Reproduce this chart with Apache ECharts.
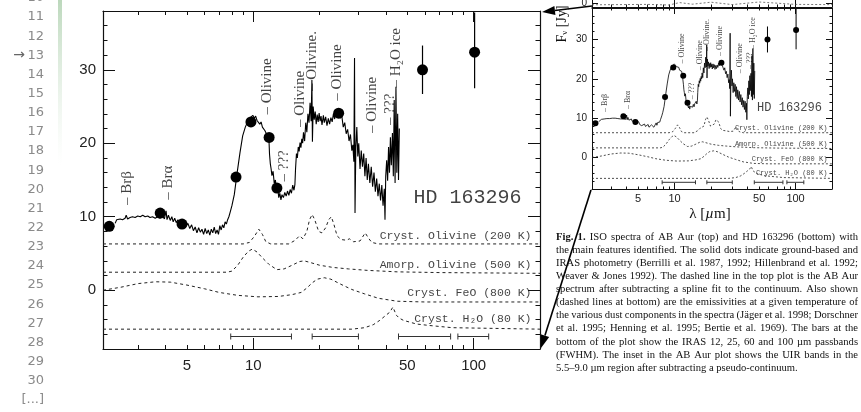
<!DOCTYPE html>
<html><head><meta charset="utf-8">
<script src="https://cdn.jsdelivr.net/npm/echarts@6/dist/echarts.min.js"></script>
<style>html,body{margin:0;padding:0;background:#fff}#c{width:861px;height:412px}</style>
</head><body><div id="c"></div><script>
// ---------------- data ----------------
const XMIN = 2.08, XMAX = 200;
const spectrum = [
[2.36,9.1],[2.40,9.6],[2.44,9.4],[2.49,9.7],[2.55,9.6],[2.62,9.8],[2.65,10.2],[2.69,9.7],[2.76,9.9],[2.83,10.0],[2.91,9.9],[2.99,10.1],[3.07,10.0],[3.15,10.2],[3.23,10.0],[3.32,10.1],[3.40,9.9],[3.49,10.0],[3.59,9.8],[3.68,10.0],[3.78,9.8],[3.88,10.1],[3.95,9.7],[4.02,10.8],[4.06,9.6],[4.12,10.2],[4.20,9.5],[4.27,10.0],[4.33,9.3],[4.40,9.8],[4.47,9.2],[4.55,9.6],[4.62,9.0],[4.70,9.5],[4.78,8.8],[4.86,9.3],[4.95,8.7],
[5.05,9.1],[5.15,8.4],[5.25,8.9],[5.35,8.1],[5.45,8.6],[5.55,7.8],[5.65,8.5],[5.75,7.9],[5.85,8.3],[5.95,7.6],[6.05,8.4],[6.15,7.7],[6.25,8.2],[6.35,7.5],[6.45,8.3],[6.55,7.8],[6.65,8.6],[6.75,7.7],[6.85,8.2],[6.95,7.6],[7.05,8.8],[7.15,8.2],[7.25,8.9],[7.35,8.5],[7.45,9.3],[7.55,9.0],[7.65,9.6],[7.75,10.0],[7.85,10.6],
[8.0,11.5],[8.2,13.0],[8.45,16.0],[8.7,18.7],[8.95,21.0],[9.2,22.2],[9.45,23.0],[9.7,23.5],[9.95,23.8],[10.1,23.4],[10.25,23.7],[10.4,23.1],[10.55,23.3],[10.7,22.6],[10.85,22.9],[11.0,22.2],[11.15,22.4],[11.3,21.7],[11.45,21.9],[11.6,21.0],[11.75,21.3],[11.85,18.5],[11.95,17.2],[12.05,16.5],[12.15,15.6],[12.3,16.2],[12.45,14.5],[12.6,15.0],[12.75,13.6],[12.9,14.0],[13.05,12.6],[13.2,13.2],[13.35,12.3],[13.5,13.0],[13.7,12.6],[13.9,13.3],[14.1,12.8],[14.3,13.5],[14.5,12.9],[14.7,13.7],[14.9,13.2],[15.1,14.3],[15.3,13.6],[15.45,14.4],[15.55,16.5],[15.7,18.6],[15.85,18.0],[16.0,19.5],[16.15,18.9],[16.3,20.1],[16.45,19.4],[16.6,20.6],[16.75,20.0],[16.9,21.5],[17.1,20.3],[17.3,22.8],[17.5,21.5],[17.7,24.0],[17.9,22.8],[18.1,25.5],[18.3,23.0],[18.45,28.6],[18.55,20.2],[18.7,25.0],[18.9,23.2],[19.1,24.3],[19.3,22.6],[19.5,23.9],[19.7,22.9],[19.9,24.1],[20.1,23.0],[20.3,23.7],[20.5,22.5],[20.8,23.8],[21.0,22.8],[21.3,23.6],[21.6,22.4],[21.9,23.4],[22.2,22.6],[22.5,23.5],[22.8,22.9],[23.1,24.0],[23.4,23.3],[23.7,24.3],[24.0,23.6],[24.4,24.6],[24.8,23.4],[25.2,23.8],[25.6,22.2],[26.0,22.8],[26.4,21.3],[26.8,21.9],[27.2,20.3],[27.6,21.2],[28.0,19.0],[28.3,19.8],[28.6,17.5],[28.8,31.6],[28.95,10.5],[29.2,19.5],[29.5,22.2],[29.8,18.2],[30.1,20.0],[30.5,16.5],[30.9,19.0],[31.3,16.8],[31.7,18.6],[32.1,15.5],[32.5,18.0],[32.9,15.0],[33.3,17.2],[33.8,14.6],[34.3,16.8],[34.8,14.1],[35.3,16.0],[35.8,13.4],[36.3,15.2],[36.8,12.8],[37.3,14.5],[37.8,12.2],[38.3,14.3],[38.8,11.5],[39.3,13.8],[39.6,9.6],[39.9,15.5],[40.3,17.7],[40.7,14.9],[41.1,19.5],[41.5,16.0],[41.9,20.8],[42.3,17.0],[42.8,21.4],[43.2,15.5],[43.6,25.9],[44.0,14.6],[44.4,27.7],[44.8,16.0],[45.2,24.0],[45.6,15.0],[46.0,22.0]
];
const photometry = [[2.22,8.7],[3.78,10.5],[4.75,9.0],[8.35,15.4],[9.76,22.9],[11.8,20.8],[12.8,13.9],[24.4,24.1],[58.6,30.0],[101,32.4]];
const photErr = [[58.6,26.7,33.3],[101,27.5,37.8]];
const olivine200 = [[2.08,6.3],[9.0,6.3],[9.6,6.5],[10.1,7.3],[10.6,8.3],[11.0,7.6],[11.4,6.6],[12.0,6.3],[14.5,6.3],[15.5,6.8],[16.2,7.4],[16.8,7.0],[17.5,8.0],[18.0,9.6],[18.5,10.3],[19.0,9.6],[19.8,8.0],[20.5,7.8],[21.3,8.5],[22.0,9.6],[22.6,10.0],[23.2,9.0],[24.0,7.4],[25.0,6.9],[26.5,6.8],[27.3,7.0],[28.5,6.6],[30.5,6.7],[32.2,7.8],[33.3,7.1],[34.5,6.5],[37,6.3],[200,6.3]];
const amorp500 = [[2.08,2.45],[7.6,2.45],[8.0,2.6],[8.5,3.4],[9.0,4.5],[9.5,5.3],[9.9,5.6],[10.4,5.2],[11.0,4.4],[11.8,3.5],[12.8,2.8],[13.8,2.9],[15.0,3.4],[16.2,3.9],[17.0,4.0],[18.0,3.8],[20,3.4],[23,3.1],[27,2.9],[33,2.7],[45,2.5],[70,2.4],[200,2.3]];
const feo800 = [[2.08,0.0],[2.5,0.4],[3.0,0.9],[3.6,1.15],[4.2,1.1],[5.0,0.7],[6.0,0.2],[7.0,-0.3],[8.5,-0.7],[10.5,-0.9],[13,-0.85],[15,-0.6],[16.5,-0.3],[17.5,0.3],[18.5,1.0],[19.5,1.5],[21,1.7],[22.5,1.5],[25,0.8],[28,0.1],[32,-0.5],[37,-1.1],[45,-1.5],[60,-1.6],[200,-1.6]];
const h2o80 = [[2.08,-5.3],[28,-5.3],[32,-5.1],[35,-4.7],[37.5,-4.1],[40,-3.4],[41.6,-3.0],[43,-2.3],[44.6,-3.4],[46,-3.8],[48,-4.1],[55,-4.6],[63,-4.8],[80,-5.1],[200,-5.3]];
const irasBars = [[7.9,14.9],[18.5,30],[45.6,78.6],[84.8,117]];
const irasLevel = -6.3;
const featureLabels = [[2.68,11.6,'Brβ'],[4.10,12.3,'Brα'],[11.5,23.9,'Olivine'],[13.8,14.8,'???'],[16.3,22.2,'Olivine'],[18.4,27.1,'Olivine.'],[23.9,25.8,'Olivine'],[34.5,21.4,'Olivine'],[41.6,22.5,'???'],[44.3,27.6,'H₂O ice']];
const curveLabels = [[183,7.37,'Cryst. Olivine (200 K)'],[183,3.41,'Amorp. Olivine (500 K)'],[183,-0.41,'Cryst. FeO (800 K)'],[183,-3.96,'Cryst. H₂O (80 K)']];
const starLabel = [[165,12.55,'HD 163296']];
const upperResidual = [[2.08,-0.9],[6,-0.7],[9,-1.0],[11,0.2],[14,-0.6],[20,0.4],[30,-0.8],[50,0.5],[100,-0.7],[200,-0.8]];
const xMinorTicks = [3,4,5,6,7,8,9,20,30,40,50,60,70,80,90];
const xMajorTicks = [10,100];
const xTickLabels = [5,10,50,100];
const yMinorTicks = [-6,-4,-2,2,4,6,8,12,14,16,18,22,24,26,28,32,34,36];
const yMajorTicks = [0,10,20,30];
const yTickLabels = [0,10,20,30];
const upperYTicks = [0];
const lineNumbers = [10,11,12,13,14,15,16,17,18,19,20,21,22,23,24,25,26,27,28,29,30];
const captionLines = [
'Fig. 1. ISO spectra of AB Aur (top) and HD 163296 (bottom) with',
'the main features identified. The solid dots indicate ground-based and',
'IRAS photometry (Berrilli et al. 1987, 1992; Hillenbrand et al. 1992;',
'Weaver & Jones 1992). The dashed line in the top plot is the AB Aur',
'spectrum after subtracting a spline fit to the continuum. Also shown',
'(dashed lines at bottom) are the emissivities at a given temperature of',
'the various dust components in the spectra (Jäger et al. 1998; Dorschner',
'et al. 1995; Henning et al. 1995; Bertie et al. 1969). The bars at the',
'bottom of the plot show the IRAS 12, 25, 60 and 100 µm passbands',
'(FWHM). The inset in the AB Aur plot shows the UIR bands in the',
'5.5–9.0 µm region after subtracting a pseudo-continuum.'
];

// ---------------- layout ----------------
const G0 = {left:103, top:11, width:437, height:338};
const G1 = {left:592, top:8, width:240, height:181};
const G2 = {left:592, top:0, width:240, height:7};
const INK = '#111';
const SANS = '"Liberation Sans", Arial, sans-serif';
const SERIF = '"Liberation Serif", "DejaVu Serif", serif';
const MONO = '"Liberation Mono", "DejaVu Sans Mono", monospace';

function xAxes(g, s) {
  const base = {type:'log', logBase:10, gridIndex:g, min:XMIN, max:XMAX, splitLine:{show:false}};
  const tl = {color:INK, width:1};
  return [
    Object.assign({}, base, {position:'bottom', axisLine:{show:true, onZero:false, lineStyle:{color:INK, width:s.lw}},
      axisTick:{show:true, inside:true, length:s.minor, customValues:xMinorTicks, lineStyle:tl},
      axisLabel:{show:s.labels, customValues:xTickLabels, formatter:v=>String(Math.round(v)), fontSize:s.fs, fontFamily:SANS, color:'#222', margin:s.margin}}),
    Object.assign({}, base, {position:'bottom', axisLine:{show:false, onZero:false},
      axisTick:{show:true, inside:true, length:s.major, customValues:xMajorTicks, lineStyle:tl}, axisLabel:{show:false}}),
    Object.assign({}, base, {position:'top', axisLine:{show:s.top, onZero:false, lineStyle:{color:INK, width:s.lw}},
      axisTick:{show:s.top, inside:true, length:s.minor, customValues:xMinorTicks, lineStyle:tl}, axisLabel:{show:false}}),
    Object.assign({}, base, {position:'top', axisLine:{show:false, onZero:false},
      axisTick:{show:s.top, inside:true, length:s.major, customValues:xMajorTicks, lineStyle:tl}, axisLabel:{show:false}})
  ];
}
function yAxes(g, s) {
  const base = {type:'value', gridIndex:g, min:s.min, max:s.max, splitLine:{show:false}};
  const tl = {color:INK, width:1};
  return [
    Object.assign({}, base, {position:'left', axisLine:{show:true, onZero:false, lineStyle:{color:INK, width:s.lw}},
      axisTick:{show:s.minorTicks.length > 0, inside:true, length:s.minor, customValues:s.minorTicks, lineStyle:tl},
      axisLabel:{show:true, customValues:s.labelVals, fontSize:s.fs, fontFamily:SANS, color:'#222', margin:s.margin}}),
    Object.assign({}, base, {position:'left', axisLine:{show:false, onZero:false},
      axisTick:{show:true, inside:true, length:s.major, customValues:s.majorTicks, lineStyle:tl}, axisLabel:{show:false}}),
    Object.assign({}, base, {position:'right', axisLine:{show:true, onZero:false, lineStyle:{color:INK, width:s.lw}},
      axisTick:{show:s.minorTicks.length > 0, inside:true, length:s.minor, customValues:s.minorTicks, lineStyle:tl}, axisLabel:{show:false}}),
    Object.assign({}, base, {position:'right', axisLine:{show:false, onZero:false},
      axisTick:{show:true, inside:true, length:s.major, customValues:s.majorTicks, lineStyle:tl}, axisLabel:{show:false}})
  ];
}

function seriesFor(g, s) {
  const ax = {xAxisIndex:4*g, yAxisIndex:4*g};
  const out = [];
  const dashed = (data) => Object.assign({type:'line', data, symbol:'none', silent:true, lineStyle:{color:'#222', width:s.dashW, type:s.dash}}, ax);
  [olivine200, amorp500, feo800, h2o80].forEach(d => out.push(dashed(d)));
  out.push(Object.assign({type:'line', data:spectrum, symbol:'none', silent:true, lineStyle:{color:'#000', width:s.specW}}, ax));
  out.push(Object.assign({type:'custom', data:photErr, encode:{x:0, y:[1,2]}, silent:true,
    renderItem:(p, api) => { const a = api.coord([api.value(0), api.value(1)]), b = api.coord([api.value(0), api.value(2)]);
      return {type:'line', shape:{x1:a[0], y1:a[1], x2:b[0], y2:b[1]}, style:{stroke:'#000', lineWidth:s.errW}}; }}, ax));
  out.push(Object.assign({type:'scatter', data:photometry, symbol:'circle', symbolSize:s.dot, itemStyle:{color:'#000', opacity:1}, silent:true}, ax));
  out.push(Object.assign({type:'custom', data:irasBars.map(b => [b[0], b[1], irasLevel]), encode:{x:[0,1], y:2}, silent:true,
    renderItem:(p, api) => { const a = api.coord([api.value(0), api.value(2)]), b = api.coord([api.value(1), api.value(2)]);
      const st = {stroke:'#333', lineWidth:1}; const c = s.cap;
      return {type:'group', children:[
        {type:'line', shape:{x1:a[0], y1:a[1], x2:b[0], y2:b[1]}, style:st},
        {type:'line', shape:{x1:a[0], y1:a[1]-c, x2:a[0], y2:a[1]+c}, style:st},
        {type:'line', shape:{x1:b[0], y1:b[1]-c, x2:b[0], y2:b[1]+c}, style:st}]}; }}, ax));
  const clear = {color:'rgba(0,0,0,0)'};
  out.push(Object.assign({type:'scatter', data:featureLabels, symbolSize:1, itemStyle:clear, silent:true,
    label:{show:true, position:'inside', rotate:90, align:'left', verticalAlign:'middle', formatter:p => '– ' + p.data[2],
      fontSize:s.featFs, fontFamily:SERIF, color:'#111'}}, ax));
  out.push(Object.assign({type:'scatter', data:curveLabels, symbolSize:1, itemStyle:clear, silent:true,
    label:{show:true, position:'inside', align:'right', verticalAlign:'middle', formatter:p => p.data[2],
      fontSize:s.curveFs, fontFamily:MONO, color:'#111'}}, ax));
  out.push(Object.assign({type:'scatter', data:starLabel, symbolSize:1, itemStyle:clear, silent:true,
    label:{show:true, position:'inside', align:'right', verticalAlign:'middle', formatter:p => p.data[2],
      fontSize:s.starFs, fontFamily:MONO, color:'#111'}}, ax));
  return out;
}

const mainStyle = {dashW:1, dash:[3,3], specW:1.1, errW:1.2, dot:11, cap:3, featFs:15, curveFs:11.5, starFs:20};
const insetStyle = {dashW:0.8, dash:[2,2], specW:0.8, errW:1, dot:6, cap:2, featFs:8, curveFs:7, starFs:12};

const series = [].concat(seriesFor(0, mainStyle), seriesFor(1, insetStyle));
series.push({type:'line', data:upperResidual, xAxisIndex:8, yAxisIndex:8, symbol:'none', silent:true, lineStyle:{color:'#555', width:0.8, type:[2,2]}});

// ---------------- graphics ----------------
const graphics = [];
graphics.push({type:'rect', shape:{x:58, y:0, width:4, height:165}, silent:true,
  style:{fill:new echarts.graphic.LinearGradient(0,0,0,1,[{offset:0, color:'#bcd8bc'},{offset:1, color:'rgba(225,238,225,0)'}])}});
lineNumbers.forEach(n => graphics.push({type:'text', x:44, y:17 + (n - 11) * 19.15, silent:true,
  style:{text:String(n), font:'13px "DejaVu Sans", sans-serif', fill:'#8a8a8a', textAlign:'right', textVerticalAlign:'middle'}}));
graphics.push({type:'text', x:19, y:17 + 2 * 19.15, silent:true, style:{text:'→', font:'14px "DejaVu Sans", sans-serif', fill:'#666', textAlign:'center', textVerticalAlign:'middle'}});
graphics.push({type:'text', x:44, y:17 + 20 * 19.15, silent:true, style:{text:'[...]', font:'13px "DejaVu Sans", sans-serif', fill:'#8a8a8a', textAlign:'right', textVerticalAlign:'middle'}});

function arrow(tail, tip) {
  const dx = tip[0] - tail[0], dy = tip[1] - tail[1], L = Math.hypot(dx, dy);
  const ux = dx / L, uy = dy / L, hl = 13, hw = 4.5;
  const bx = tip[0] - ux * hl, by = tip[1] - uy * hl;
  graphics.push({type:'line', silent:true, shape:{x1:tail[0], y1:tail[1], x2:bx, y2:by}, style:{stroke:'#000', lineWidth:1.6}});
  graphics.push({type:'polygon', silent:true, shape:{points:[tip, [bx - uy * hw, by + ux * hw], [bx + uy * hw, by - ux * hw]]}, style:{fill:'#000'}});
}
arrow([G1.left, 6], [G0.left + G0.width + 2, 12]);
arrow([G1.left - 1, G1.top + G1.height + 1], [G0.left + G0.width + 1, G0.top + G0.height - 1]);

graphics.push({type:'text', x:710, y:214, silent:true, style:{text:'{a|λ [}{i|µ}{a|m]}', textAlign:'center', textVerticalAlign:'middle',
  rich:{a:{fontSize:15, fontFamily:SERIF, fill:'#111'}, i:{fontSize:15, fontFamily:SERIF, fontStyle:'italic', fill:'#111'}}}});
graphics.push({type:'text', x:562, y:24, rotation:Math.PI/2, silent:true, style:{text:'{a|F}{s|ν}{a| [Jy]}', textAlign:'center', textVerticalAlign:'middle',
  rich:{a:{fontSize:14, fontFamily:SERIF, fill:'#111', verticalAlign:'bottom'}, s:{fontSize:9, fontFamily:SERIF, fill:'#111', verticalAlign:'bottom'}}}});

// justified caption
const CAP_L = 556, CAP_R = 858, CAP_Y0 = 237, CAP_DY = 13.1, CAP_FS = 10.6;
const mctx = document.createElement('canvas').getContext('2d');
function mw(t, bold) { mctx.font = (bold ? 'bold ' : '') + CAP_FS + 'px "Liberation Serif"'; return mctx.measureText(t).width; }
captionLines.forEach((line, i) => {
  const words = line.split(' ');
  const nb = i === 0 ? 2 : 0;
  const ws = words.map((w, j) => mw(w, j < nb));
  const tot = ws.reduce((a, b) => a + b, 0);
  const last = i === captionLines.length - 1;
  const gap = last ? mw(' ', false) : (CAP_R - CAP_L - tot) / (words.length - 1);
  let x = CAP_L;
  words.forEach((w, j) => {
    graphics.push({type:'text', x:x, y:CAP_Y0 + i * CAP_DY, silent:true,
      style:{text:w, font:(j < nb ? 'bold ' : '') + CAP_FS + 'px ' + SERIF, fill:'#111', textAlign:'left', textVerticalAlign:'middle'}});
    x += ws[j] + gap;
  });
});

// ---------------- option ----------------
const gridBase = {containLabel:false, outerBoundsMode:'none'};
const option = {
  animation:false,
  backgroundColor:'#fff',
  grid:[Object.assign({}, gridBase, G0), Object.assign({}, gridBase, G1), Object.assign({}, gridBase, G2)],
  xAxis:[].concat(
    xAxes(0, {lw:1.2, minor:4, major:11, labels:true, fs:15, margin:9, top:true}),
    xAxes(1, {lw:1, minor:2.5, major:6, labels:true, fs:11, margin:4, top:true}),
    xAxes(2, {lw:1, minor:2.5, major:9, labels:false, fs:10, margin:4, top:false})),
  yAxis:[].concat(
    yAxes(0, {min:-8, max:38, lw:1.2, minor:4.5, major:12, fs:15, margin:7, labelVals:yTickLabels, minorTicks:yMinorTicks, majorTicks:yMajorTicks}),
    yAxes(1, {min:-8, max:38, lw:1, minor:2.5, major:6, fs:10, margin:5, labelVals:yTickLabels, minorTicks:yMinorTicks, majorTicks:yMajorTicks}),
    yAxes(2, {min:-2, max:1.5, lw:1, minor:2.5, major:6, fs:10, margin:5, labelVals:upperYTicks, minorTicks:[], majorTicks:upperYTicks})),
  series:series,
  graphic:{elements:graphics}
};
const chart = echarts.init(document.getElementById('c'), null, {renderer:'canvas'});
chart.setOption(option);
</script></body></html>
